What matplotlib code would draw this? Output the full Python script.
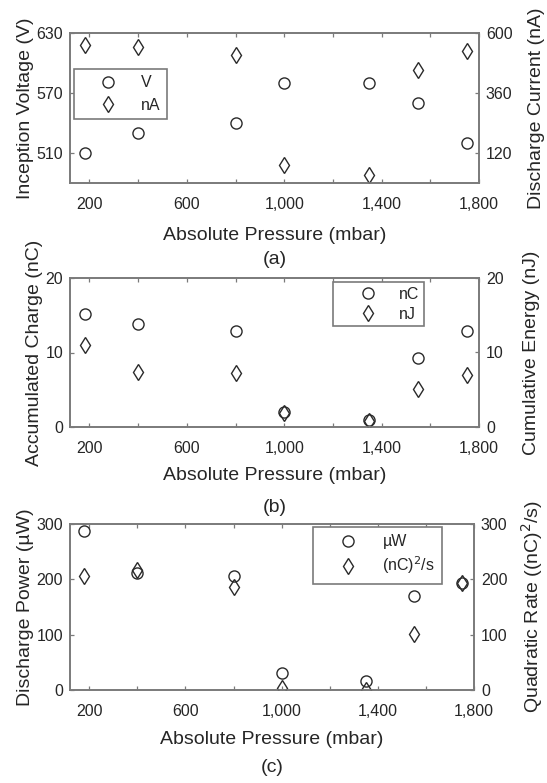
import matplotlib
matplotlib.use("Agg")
import matplotlib.pyplot as plt

plt.rcParams['font.family'] = ['Liberation Sans', 'DejaVu Sans']

pressure = [180, 400, 800, 1000, 1350, 1550, 1750]
x_ticks = [200, 400, 600, 800, 1000, 1200, 1400, 1600, 1800]
x_ticklabels = ['200', '', '600', '', '1,000', '', '1,400', '', '1,800']

voltage = [510, 530, 540, 580, 580, 560, 520]
current = [553, 543, 511, 73, 33, 453, 527]

charge = [15.2, 13.8, 12.9, 2.0, 0.97, 9.3, 12.9]
energy = [11.0, 7.4, 7.25, 1.85, 0.75, 5.1, 7.0]

power = [287, 211, 206, 30, 16, 169, 193]
quad_rate = [206, 216, 187, 4, 0, 102, 193]

W, H = 547, 783
fig = plt.figure(figsize=(W / 100, H / 100), dpi=100)

TXT = '#262626'
SPINE = '#7a7a7a'
MK = '#2a2a2a'
TFS = 11.5
LFS = 14

def px_axes(l, r, t, b):
    return fig.add_axes([l / W, (H - b) / H, (r - l) / W, (b - t) / H])

def style(ax):
    for s in ax.spines.values():
        s.set_color(SPINE)
        s.set_linewidth(1.2)
    ax.tick_params(direction='in', length=3, width=0.9, colors=SPINE,
                   labelcolor=TXT, labelsize=TFS, pad=5)

def panel(l, r, t, b, y1, y2, lim1, lim2, ticks1, ticks2, lab1, lab2,
          leg1, leg2, cap, cap_y, xlab_pad, rlab_pad, leg_pos, leg_kw):
    ax = px_axes(l, r, t, b)
    ax2 = ax.twinx()
    h1, = ax.plot(pressure, y1, linestyle='none', marker='o', ms=8,
                  mfc='none', mec=MK, mew=1.0)
    h2, = ax2.plot(pressure, y2, linestyle='none', marker='d', ms=8.5,
                   mfc='none', mec=MK, mew=1.0)
    ax.set_xlim(120, 1800)
    ax.set_ylim(*lim1)
    ax2.set_ylim(*lim2)
    ax.set_xticks(x_ticks)
    ax.set_xticklabels(x_ticklabels)
    ax.set_yticks(ticks1)
    ax2.set_yticks(ticks2)
    style(ax)
    style(ax2)
    ax.tick_params(top=True)
    ax.tick_params(axis='x', pad=10)
    ax2.tick_params(right=True)
    ax.set_xlabel('Absolute Pressure (mbar)', fontsize=LFS, color=TXT,
                  labelpad=xlab_pad)
    ax.set_ylabel(lab1, fontsize=LFS, color=TXT, labelpad=2)
    ax2.set_ylabel(lab2, fontsize=LFS, color=TXT, labelpad=rlab_pad)
    fig.text((l + r) / 2 / W, 1 - cap_y / H, cap, ha='center', va='center',
             fontsize=LFS, color=TXT)
    leg = ax2.legend([h1, h2], [leg1, leg2], loc='upper left',
                     bbox_to_anchor=(leg_pos[0] / W, 1 - leg_pos[1] / H),
                     bbox_transform=fig.transFigure, frameon=True,
                     fancybox=False, framealpha=1, edgecolor=SPINE,
                     fontsize=TFS, borderaxespad=0, **leg_kw)
    leg.get_frame().set_linewidth(1.2)
    for t_ in leg.get_texts():
        t_.set_color(TXT)
    return ax, ax2

panel(70, 479, 33, 183, voltage, current, (480, 630), (0, 600),
      [510, 570, 630], [120, 360, 600],
      'Inception Voltage (V)', 'Discharge Current (nA)',
      'V', 'nA', '(a)', 259, 11, 11, (74, 69),
      dict(handlelength=3.4, handletextpad=0.4, borderpad=0.4, labelspacing=0.45))

panel(70, 479, 278, 427, charge, energy, (0, 20), (0, 20),
      [0, 10, 20], [0, 10, 20],
      'Accumulated Charge (nC)', 'Cumulative Energy (nJ)',
      'nC', 'nJ', '(b)', 507, 8, 14, (333, 282),
      dict(handlelength=3.8, handletextpad=0.0, borderpad=0.3, labelspacing=0.3))

panel(70, 474, 524, 690, power, quad_rate, (0, 300), (0, 300),
      [0, 100, 200, 300], [0, 100, 200, 300],
      'Discharge Power (\u00b5W)', 'Quadratic Rate ((nC)$^2$/s)',
      '\u00b5W', '(nC)$^2$/s', '(c)', 768, 9, 8, (313, 527),
      dict(handlelength=3.5, handletextpad=0.4, borderpad=0.45, labelspacing=0.35))

fig.savefig('out.png', dpi=100)
